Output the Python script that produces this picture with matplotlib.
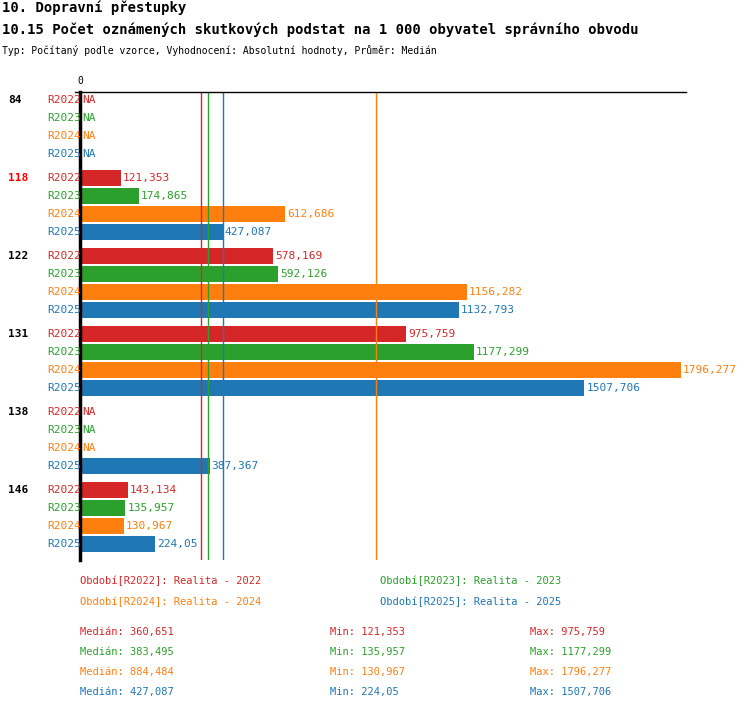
import matplotlib
matplotlib.use("Agg")
import matplotlib.pyplot as plt
import numpy as np

groups = ["84", "118", "122", "131", "138", "146"]
series = ["R2022", "R2023", "R2024", "R2025"]
colors = ["#d62728", "#2ca02c", "#ff7f0e", "#1f77b4"]
values = [
    [None, None, None, None],
    [121.353, 174.865, 612.686, 427.087],
    [578.169, 592.126, 1156.282, 1132.793],
    [975.759, 1177.299, 1796.277, 1507.706],
    [None, None, None, 387.367],
    [143.134, 135.957, 130.967, 224.05],
]
medians = [360.651, 383.495, 884.484, 427.087]
mins = ["121,353", "135,957", "130,967", "224,05"]
maxs = ["975,759", "1177,299", "1796,277", "1507,706"]
medians_txt = ["360,651", "383,495", "884,484", "427,087"]
legend_txt = ["Období[R2022]: Realita - 2022", "Období[R2023]: Realita - 2023",
              "Období[R2024]: Realita - 2024", "Období[R2025]: Realita - 2025"]

plt.rcParams["font.family"] = ["DejaVu Sans Mono"]
W, H = 750, 710
fig = plt.figure(figsize=(W / 100, H / 100), dpi=100)

def fmt(v):
    return f"{v:.3f}".rstrip("0").rstrip(".").replace(".", ",")

ax = fig.add_axes([80 / W, 1 - 560 / H, 606 / W, 468 / H])
xmax = 1796.277 * 606 / 601
ax.set_xlim(0, xmax)
ax.set_ylim(560, 92)
ax.axis("off")

for g, name in enumerate(groups):
    for r, s in enumerate(series):
        y = 100 + g * 78 + r * 18
        v = values[g][r]
        fig.text(47 / W, 1 - y / H, s, color=colors[r], fontsize=8, va="center")
        if v is None:
            ax.text(xmax * 2 / 606, y, "NA", color=colors[r], fontsize=8, va="center")
        else:
            ax.barh(y, v, height=16, color=colors[r])
            ax.text(v + xmax * 2 / 606, y, fmt(v), color=colors[r], fontsize=8, va="center")
    fig.text(8 / W, 1 - (100 + g * 78) / H, name, fontsize=8, weight="bold", va="center",
             color="red" if name == "118" else "black")

for m, c in zip(medians, colors):
    ax.axvline(m, color=c, lw=1)
ax.plot([-5 * xmax / 606, xmax], [92, 92], color="black", lw=1, clip_on=False)
ax.plot([0, 0], [92, 560], color="black", lw=2.5, clip_on=False)
ax.text(0, 86, "0", fontsize=7, ha="center", va="bottom")

fig.text(2 / W, 1 - 8 / H, "10. Dopravní přestupky", fontsize=10, weight="bold", va="center")
fig.text(2 / W, 1 - 30 / H, "10.15 Počet oznámených skutkových podstat na 1 000 obyvatel správního obvodu",
         fontsize=10, weight="bold", va="center")
fig.text(2 / W, 1 - 50 / H, "Typ: Počítaný podle vzorce, Vyhodnocení: Absolutní hodnoty, Průměr: Medián",
         fontsize=7, va="center")

for i, t in enumerate(legend_txt):
    x = 80 if i % 2 == 0 else 380
    y = 581 if i < 2 else 602
    fig.text(x / W, 1 - y / H, t, color=colors[i], fontsize=7.5, va="center")

for i in range(4):
    y = 632 + i * 20
    fig.text(80 / W, 1 - y / H, "Medián: " + medians_txt[i], color=colors[i], fontsize=7.5, va="center")
    fig.text(330 / W, 1 - y / H, "Min: " + mins[i], color=colors[i], fontsize=7.5, va="center")
    fig.text(530 / W, 1 - y / H, "Max: " + maxs[i], color=colors[i], fontsize=7.5, va="center")

fig.savefig("out.png", dpi=100)
